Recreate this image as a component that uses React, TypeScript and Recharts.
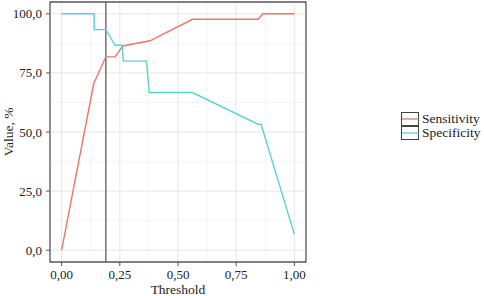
import React from "react";
import {
  LineChart,
  Line,
  XAxis,
  YAxis,
  CartesianGrid,
  ReferenceLine,
  ReferenceArea,
  Legend,
} from "recharts";

const sensThreshold = [0, 0.138, 0.19, 0.23, 0.263, 0.38, 0.562, 0.844, 0.865, 1.0];
const sensValue = [0, 70.5, 81.8, 81.8, 86.4, 88.6, 97.7, 97.7, 100, 100];

const specThreshold = [0, 0.14, 0.14, 0.19, 0.23, 0.26, 0.265, 0.365, 0.376, 0.562, 0.844, 0.857, 1.0];
const specValue = [100, 100, 93.3, 93.3, 86.7, 86.7, 80, 80, 66.7, 66.7, 53.3, 53.3, 6.7];

const cutoff = 0.19;

const xTicks = [0, 0.25, 0.5, 0.75, 1];
const yTicks = [0, 25, 50, 75, 100];
const xMinor = [0.125, 0.375, 0.625, 0.875];
const yMinor = [12.5, 37.5, 62.5, 87.5];

const xDomain: [number, number] = [-0.05, 1.05];
const yDomain: [number, number] = [-5, 105];

const sensData = sensThreshold.map((t, i) => ({ t, v: sensValue[i] }));
const specData = specThreshold.map((t, i) => ({ t, v: specValue[i] }));

const RED = "#E8776F";
const CYAN = "#5ED0D4";
const FONT = '"Liberation Serif", "Times New Roman", "DejaVu Serif", serif';

const fmtX = (v: number) => v.toFixed(2).replace(".", ",");
const fmtY = (v: number) => v.toFixed(1).replace(".", ",");

const XTick = (props: any) => {
  const { x, y, payload } = props;
  return (
    <text
      x={x}
      y={y + 11}
      textAnchor="middle"
      fontFamily={FONT}
      fontSize={13}
      fill="#222"
    >
      {fmtX(payload.value)}
    </text>
  );
};

const YTick = (props: any) => {
  const { x, y, payload } = props;
  return (
    <text
      x={x - 2}
      y={y + 4.5}
      textAnchor="end"
      fontFamily={FONT}
      fontSize={13}
      fill="#222"
    >
      {fmtY(payload.value)}
    </text>
  );
};

const LegendContent = () => {
  const items = [
    { label: "Sensitivity", color: RED },
    { label: "Specificity", color: CYAN },
  ];
  return (
    <div style={{ fontFamily: FONT, fontSize: 13.5, color: "#222" }}>
      {items.map((it) => (
        <div key={it.label} style={{ display: "flex", alignItems: "center", height: 14 }}>
          <svg width={19} height={14} style={{ display: "block", flex: "none" }}>
            <rect x={0.5} y={0.5} width={17} height={13} fill="#fff" stroke="#444" strokeWidth={1} />
            <line x1={1} x2={17.5} y1={7} y2={7} stroke={it.color} strokeWidth={1.3} />
          </svg>
          <span style={{ marginLeft: 2, lineHeight: "14px", whiteSpace: "nowrap", fontFamily: FONT }}>
            {it.label}
          </span>
        </div>
      ))}
    </div>
  );
};

export default function App() {
  return (
    <div style={{ position: "absolute", left: 0, top: 0, background: "#fff" }}>
      <LineChart
        width={484}
        height={296}
        margin={{ top: 2, right: 95, bottom: 0, left: 0 }}
        style={{ fontFamily: FONT }}
      >
        <CartesianGrid
          stroke="#f1f1f1"
          strokeWidth={0.8}
          horizontalValues={yMinor}
          verticalValues={xMinor}
        />
        <CartesianGrid
          stroke="#e6e6e6"
          strokeWidth={1}
          horizontalValues={yTicks}
          verticalValues={xTicks}
        />
        <XAxis
          type="number"
          dataKey="t"
          domain={xDomain}
          ticks={xTicks}
          allowDataOverflow
          height={34}
          axisLine={false}
          tickLine={{ stroke: "#555" }}
          tickSize={4}
          tick={<XTick />}
          label={{
            value: "Threshold",
            position: "insideBottom",
            offset: 2,
            fill: "#222",
            fontSize: 13.5,
            fontFamily: FONT,
          }}
        />
        <YAxis
          type="number"
          dataKey="v"
          domain={yDomain}
          ticks={yTicks}
          allowDataOverflow
          width={50}
          axisLine={false}
          tickLine={{ stroke: "#555" }}
          tickSize={4}
          tick={<YTick />}
          label={{
            value: "Value, %",
            angle: -90,
            position: "insideLeft",
            offset: 8,
            fill: "#222",
            fontSize: 13.5,
            fontFamily: FONT,
            style: { textAnchor: "middle" },
          }}
        />
        <ReferenceArea
          x1={xDomain[0]}
          x2={xDomain[1]}
          y1={yDomain[0]}
          y2={yDomain[1]}
          fill="none"
          stroke="#555"
          strokeWidth={1.3}
        />
        <ReferenceLine x={cutoff} stroke="#666" strokeWidth={1.4} />
        <Line
          data={sensData}
          dataKey="v"
          name="Sensitivity"
          type="linear"
          stroke={RED}
          strokeWidth={1.4}
          dot={false}
          isAnimationActive={false}
        />
        <Line
          data={specData}
          dataKey="v"
          name="Specificity"
          type="linear"
          stroke={CYAN}
          strokeWidth={1.4}
          dot={false}
          isAnimationActive={false}
        />
        <Legend
          layout="vertical"
          verticalAlign="top"
          align="right"
          content={<LegendContent />}
          wrapperStyle={{ position: "absolute", left: 401, top: 112, width: 83 }}
        />
      </LineChart>
    </div>
  );
}
